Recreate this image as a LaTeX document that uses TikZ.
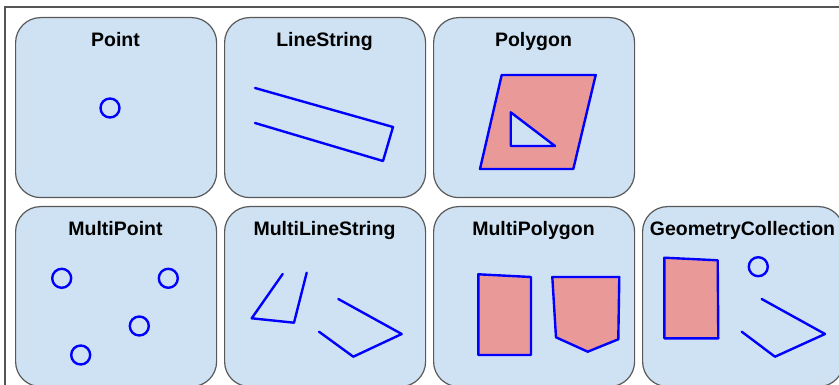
\documentclass[tikz,border=0pt]{standalone}
\usepackage{fontspec}
\setmainfont{Liberation Sans}
\definecolor{boxfill}{HTML}{CFE2F3}
\definecolor{boxline}{HTML}{595959}
\definecolor{framecol}{HTML}{555555}
\definecolor{polyfill}{HTML}{EA9999}
\definecolor{geomblue}{HTML}{0000FF}
\begin{document}
\begin{tikzpicture}[x=1pt,y=-1pt,
  panel/.style={draw=boxline, fill=boxfill, line width=1.2pt, rounded corners=25pt,
    minimum width=201pt, minimum height=180pt, inner sep=0pt, anchor=north west},
  ttl/.style={font=\bfseries\fontsize{19.5}{22}\selectfont, anchor=base, text=black, inner sep=0pt},
  geo/.style={draw=geomblue, line width=2.4pt, line join=round, line cap=round},
  poly/.style={geo, fill=polyfill}]
\useasboundingbox (0,0) rectangle (839,385);
\clip (0,0) rectangle (839,385);
\draw[draw=framecol, line width=1.5pt] (5,7) rectangle (870,420);
% panels
\node[panel] (pPoint) at (15,17) {};
\node[panel] (pLine) at (224,17) {};
\node[panel] (pPoly) at (433,17) {};
\node[panel] (pMPoint) at (15,206) {};
\node[panel] (pMLine) at (224,206) {};
\node[panel] (pMPoly) at (433,206) {};
\node[panel] (pColl) at (642,206) {};
% titles
\node[ttl] (tPoint) at (115.5,47) {Point};
\node[ttl] (tLine) at (324.5,47) {LineString};
\node[ttl] (tPoly) at (533.5,47) {Polygon};
\node[ttl] (tMPoint) at (115.5,236) {MultiPoint};
\node[ttl] (tMLine) at (324.5,236) {MultiLineString};
\node[ttl] (tMPoly) at (533.5,236) {MultiPolygon};
\node[ttl] (tColl) at (742.5,236) {GeometryCollection};
% Point
\draw[geo] (110,108) circle[radius=9.5];
% LineString
\draw[geo] (255,88) -- (393,127) -- (383,161) -- (255,123);
% Polygon with hole
\draw[poly, even odd rule] (501.7,75) -- (595.7,75) -- (573.3,169) -- (480,169) -- cycle
  (510.7,112.3) -- (555,146) -- (510.7,146) -- cycle;
% MultiPoint
\draw[geo] (61.7,278.3) circle[radius=9.5];
\draw[geo] (168.3,278.3) circle[radius=9.5];
\draw[geo] (139.3,326) circle[radius=9.5];
\draw[geo] (80.7,355) circle[radius=9.5];
% MultiLineString
\draw[geo] (282.7,274) -- (251.7,318.3) -- (294,322.7) -- (306.7,272.7);
\draw[geo] (338.3,299) -- (401.7,334) -- (353.3,356.7) -- (319,331.7);
% MultiPolygon
\draw[poly] (478.3,274.3) -- (531,277) -- (531,355) -- (478.3,355) -- cycle;
\draw[poly] (552.3,277) -- (619.3,277) -- (618.3,339.3) -- (587.7,351.7) -- (556,337.3) -- cycle;
% GeometryCollection
\draw[poly] (664.3,257.7) -- (717.7,260.3) -- (718.3,338.3) -- (664.3,338.3) -- cycle;
\draw[geo] (758.3,266.7) circle[radius=9.5];
\draw[geo] (761.7,299) -- (825,334) -- (775,356.7) -- (741.7,331.7);
\end{tikzpicture}
\end{document}
